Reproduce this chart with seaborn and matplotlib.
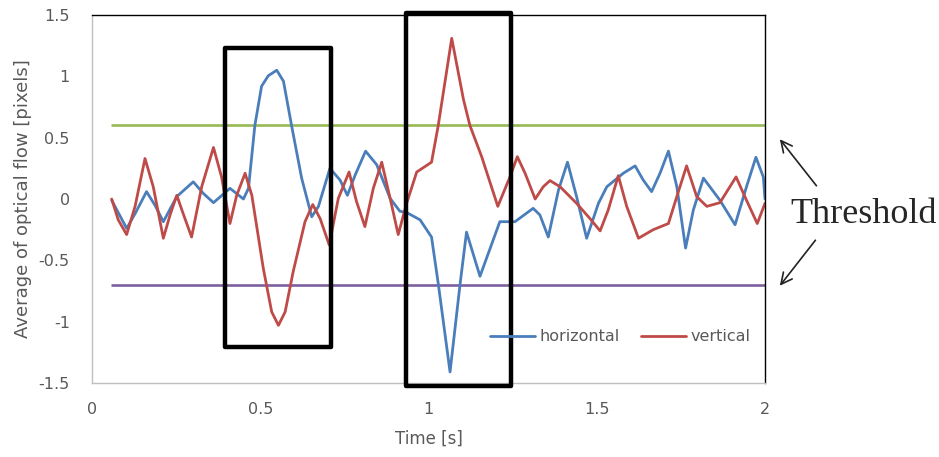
import numpy as np
import pandas as pd
import matplotlib
matplotlib.use("Agg")
import matplotlib.pyplot as plt
import seaborn as sns
from matplotlib.patches import Rectangle

# ---- data ----
h_time = [0.0585, 0.103, 0.128, 0.162, 0.187, 0.212, 0.252, 0.301, 0.331, 0.361,
          0.410, 0.450, 0.465, 0.484, 0.504, 0.524, 0.549, 0.569, 0.593, 0.623,
          0.653, 0.673, 0.707, 0.737, 0.759, 0.782, 0.813, 0.846, 0.886, 0.915,
          0.935, 0.975, 1.009, 1.029, 1.064, 1.094, 1.113, 1.153, 1.212, 1.257,
          1.311, 1.331, 1.356, 1.386, 1.413, 1.440, 1.470, 1.505, 1.530, 1.579,
          1.614, 1.638, 1.663, 1.688, 1.713, 1.738, 1.764, 1.787, 1.817, 1.866,
          1.911, 1.945, 1.973, 1.995, 2.000]
h_vals = [-0.01, -0.24, -0.12, 0.06, -0.05, -0.185, 0.02, 0.14, 0.045, -0.03,
          0.087, 0.0, 0.087, 0.60, 0.92, 1.005, 1.05, 0.96, 0.60, 0.17,
          -0.145, -0.06, 0.25, 0.155, 0.03, 0.195, 0.39, 0.28, 0.005, -0.10,
          -0.11, -0.17, -0.31, -0.69, -1.41, -0.69, -0.27, -0.63, -0.185, -0.185,
          -0.076, -0.13, -0.31, 0.07, 0.30, 0.02, -0.32, -0.035, 0.10, 0.21,
          0.27, 0.155, 0.06, 0.21, 0.39, 0.10, -0.40, -0.09, 0.17, -0.01,
          -0.21, 0.10, 0.34, 0.18, 0.00]

v_time = [0.0585, 0.078, 0.103, 0.128, 0.1575, 0.182, 0.212, 0.232, 0.252, 0.271,
          0.296, 0.326, 0.361, 0.385, 0.410, 0.430, 0.455, 0.475, 0.509, 0.534,
          0.554, 0.574, 0.598, 0.633, 0.656, 0.678, 0.705, 0.732, 0.764, 0.786,
          0.811, 0.836, 0.861, 0.886, 0.910, 0.935, 0.965, 1.009, 1.029, 1.069,
          1.104, 1.123, 1.158, 1.206, 1.242, 1.264, 1.287, 1.317, 1.341, 1.361,
          1.391, 1.440, 1.480, 1.510, 1.534, 1.564, 1.589, 1.624, 1.668, 1.713,
          1.738, 1.767, 1.797, 1.827, 1.866, 1.914, 1.945, 1.977, 2.000]
v_vals = [0.00, -0.17, -0.29, -0.06, 0.33, 0.10, -0.32, -0.13, 0.03, -0.12,
          -0.31, 0.10, 0.42, 0.18, -0.20, 0.03, 0.21, 0.03, -0.565, -0.92,
          -1.03, -0.92, -0.59, -0.185, -0.045, -0.16, -0.375, 0.005, 0.22, -0.02,
          -0.225, 0.087, 0.30, 0.005, -0.29, -0.035, 0.22, 0.30, 0.60, 1.31,
          0.81, 0.60, 0.345, -0.06, 0.18, 0.345, 0.21, 0.00, 0.10, 0.15,
          0.10, -0.035, -0.16, -0.26, -0.09, 0.19, -0.06, -0.32, -0.25, -0.20,
          0.02, 0.27, 0.02, -0.06, -0.03, 0.18, -0.01, -0.20, -0.035]

thr_time = [0.055, 2.0]
thr_upper = [0.6, 0.6]
thr_lower = [-0.7, -0.7]

series_names = ["horizontal", "vertical"]
x_ticks = [0, 0.5, 1, 1.5, 2]
x_tick_labels = ["0", "0.5", "1", "1.5", "2"]
y_ticks = [-1.5, -1, -0.5, 0, 0.5, 1, 1.5]
y_tick_labels = ["-1.5", "-1", "-0.5", "0", "0.5", "1", "1.5"]

box1 = dict(t0=0.395, t1=0.709, v0=-1.204, v1=1.228)
box2 = dict(t0=0.933, t1=1.245, v0=-1.524, v1=1.52)

df = pd.concat([
    pd.DataFrame({"Time": h_time, "Flow": h_vals, "series": series_names[0]}),
    pd.DataFrame({"Time": v_time, "Flow": v_vals, "series": series_names[1]}),
], ignore_index=True)

# ---- style ----
sns.set_style("white")
plt.rcParams["font.family"] = ["DejaVu Sans"]
gray = "#595959"
fs = 11.5

fig = plt.figure(figsize=(9.39, 4.57), dpi=100)
ax = fig.add_axes([92/939, 1-383/457, (765-92)/939, (383-15)/457])

ax.plot(thr_time, thr_upper, color="#98B954", lw=1.9, solid_capstyle="butt")
ax.plot(thr_time, thr_lower, color="#7D60A0", lw=1.9, solid_capstyle="butt")

sns.lineplot(data=df, x="Time", y="Flow", hue="series",
             palette={"horizontal": "#4A7EBB", "vertical": "#BE4B48"},
             linewidth=2.0, ax=ax, sort=False, estimator=None)
for ln in ax.get_lines():
    ln.set_solid_joinstyle("round")

for b in (box1, box2):
    ax.add_patch(Rectangle((b["t0"], b["v0"]), b["t1"]-b["t0"], b["v1"]-b["v0"],
                           fill=False, edgecolor="black", lw=3.2, clip_on=False,
                           zorder=5, joinstyle="round"))

ax.set_xlim(0, 2)
ax.set_ylim(-1.5, 1.5)
ax.set_xticks(x_ticks)
ax.set_xticklabels(x_tick_labels)
ax.set_yticks(y_ticks)
ax.set_yticklabels(y_tick_labels)
ax.tick_params(length=0, labelsize=fs, colors=gray)
ax.tick_params(axis="y", pad=16)
ax.tick_params(axis="x", pad=14)
ax.set_xlabel("Time [s]", fontsize=12, color=gray, labelpad=9)
ax.set_ylabel("Average of optical flow [pixels]", fontsize=13, color=gray, labelpad=5)

for s in ("left", "bottom"):
    ax.spines[s].set_color("#BFBFBF")
    ax.spines[s].set_linewidth(1.0)
for s in ("top", "right"):
    ax.spines[s].set_color("black")
    ax.spines[s].set_linewidth(1.0)

leg = ax.legend(loc="center", bbox_to_anchor=(0.785, 0.126), ncol=2, frameon=False,
                fontsize=fs, handlelength=2.8, handletextpad=0.3, columnspacing=1.3)
for t in leg.get_texts():
    t.set_color(gray)

# Threshold annotation
ax.text(2.294, -0.125, "Threshold", fontsize=26, family=["Liberation Serif", "DejaVu Serif"],
        ha="center", va="center", clip_on=False)
arrow_kw = dict(arrowstyle="->,head_length=0.8,head_width=0.4", color="#222222", lw=1.2)
ax.annotate("", xy=(2.039, 0.505), xytext=(2.158, 0.09), arrowprops=arrow_kw,
            annotation_clip=False)
ax.annotate("", xy=(2.039, -0.725), xytext=(2.155, -0.318), arrowprops=arrow_kw,
            annotation_clip=False)

fig.savefig("out.png", dpi=100)
